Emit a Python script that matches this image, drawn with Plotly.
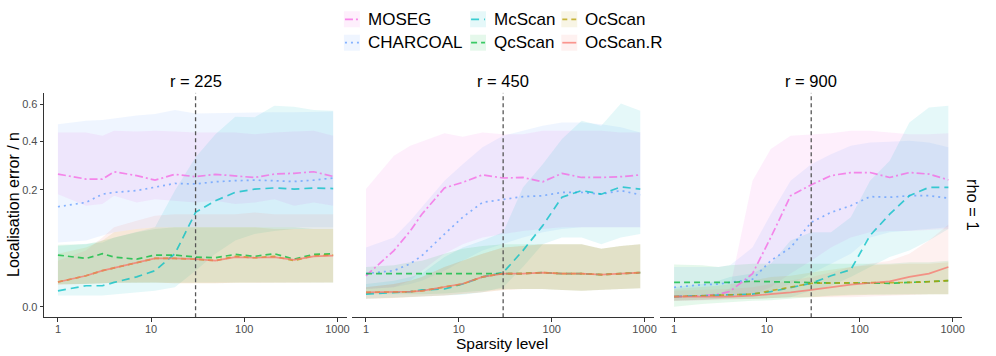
import numpy as np
import plotly.graph_objects as go

# ---------------- data ----------------
sparsity = [1, 2, 3, 4, 7, 11, 18, 30, 49, 80, 129, 210, 342, 556, 900]
r_values = [225, 450, 900]
methods = ["MOSEG", "CHARCOAL", "McScan", "QcScan", "OcScan", "OcScan.R"]
y_tick_vals = [0.0, 0.2, 0.4, 0.6]
y_tick_text = ["0.0", "0.2", "0.4", "0.6"]
x_tick_vals = [1, 10, 100, 1000]
vline_at = 30

# r = 225
r225_moseg_med = [0.257, 0.238, 0.238, 0.266, 0.251, 0.234, 0.256, 0.247, 0.256, 0.251, 0.244, 0.257, 0.260, 0.266, 0.248]
r225_moseg_lo = [0.185, 0.149, 0.154, 0.180, 0.159, 0.169, 0.164, 0.159, 0.164, 0.154, 0.159, 0.169, 0.149, 0.159, 0.149]
r225_moseg_hi = [0.444, 0.444, 0.427, 0.452, 0.449, 0.452, 0.449, 0.444, 0.444, 0.444, 0.435, 0.444, 0.449, 0.452, 0.427]
r225_charcoal_med = [0.146, 0.159, 0.185, 0.191, 0.197, 0.208, 0.222, 0.220, 0.228, 0.232, 0.234, 0.232, 0.229, 0.234, 0.242]
r225_charcoal_lo = [0.060, 0.064, 0.074, 0.081, 0.088, 0.092, 0.092, 0.092, 0.092, 0.092, 0.092, 0.092, 0.092, 0.092, 0.092]
r225_charcoal_hi = [0.487, 0.505, 0.509, 0.518, 0.534, 0.542, 0.565, 0.546, 0.548, 0.552, 0.552, 0.552, 0.552, 0.555, 0.557]
r225_mcscan_med = [0.0037, 0.0064, 0.0064, 0.0086, 0.013, 0.019, 0.041, 0.130, 0.164, 0.191, 0.202, 0.206, 0.202, 0.206, 0.204]
r225_mcscan_lo = [0.0018, 0.0018, 0.0018, 0.0023, 0.0030, 0.0037, 0.0055, 0.019, 0.041, 0.064, 0.077, 0.084, 0.088, 0.088, 0.088]
r225_mcscan_hi = [0.054, 0.057, 0.060, 0.070, 0.081, 0.092, 0.197, 0.326, 0.435, 0.527, 0.524, 0.590, 0.584, 0.565, 0.561]
r225_qcscan_med = [0.039, 0.034, 0.041, 0.036, 0.033, 0.039, 0.039, 0.036, 0.035, 0.040, 0.037, 0.041, 0.033, 0.040, 0.041]
r225_qcscan_lo = [0.0075, 0.0075, 0.0080, 0.0084, 0.0086, 0.0086, 0.0086, 0.0086, 0.0086, 0.0086, 0.0086, 0.0086, 0.0086, 0.0086, 0.0086]
r225_qcscan_hi = [0.056, 0.057, 0.064, 0.070, 0.081, 0.088, 0.092, 0.092, 0.092, 0.092, 0.092, 0.092, 0.092, 0.088, 0.088]
r225_ocscan_med = [0.0089, 0.014, 0.019, 0.022, 0.029, 0.034, 0.034, 0.033, 0.031, 0.037, 0.035, 0.037, 0.031, 0.038, 0.039]
r225_ocscan_lo = [0.0070, 0.0075, 0.0080, 0.0084, 0.0086, 0.0086, 0.0080, 0.0080, 0.0080, 0.0084, 0.0086, 0.0086, 0.0086, 0.0086, 0.0086]
r225_ocscan_hi = [0.041, 0.051, 0.064, 0.081, 0.088, 0.092, 0.092, 0.092, 0.092, 0.092, 0.092, 0.088, 0.088, 0.088, 0.088]
r225_ocscanr_med = [0.0089, 0.014, 0.019, 0.022, 0.029, 0.034, 0.034, 0.033, 0.031, 0.036, 0.035, 0.036, 0.032, 0.037, 0.038]
r225_ocscanr_lo = [0.0070, 0.0075, 0.0080, 0.0084, 0.0086, 0.0086, 0.0080, 0.0080, 0.0080, 0.0084, 0.0086, 0.0086, 0.0086, 0.0086, 0.0086]
r225_ocscanr_hi = [0.031, 0.046, 0.070, 0.092, 0.108, 0.121, 0.125, 0.125, 0.125, 0.125, 0.130, 0.125, 0.125, 0.125, 0.125]

# r = 450
r450_moseg_med = [0.014, 0.046, 0.084, 0.125, 0.206, 0.226, 0.254, 0.242, 0.244, 0.228, 0.260, 0.244, 0.244, 0.247, 0.254]
r450_moseg_lo = [0.0046, 0.0055, 0.0099, 0.019, 0.041, 0.057, 0.070, 0.077, 0.084, 0.088, 0.092, 0.092, 0.092, 0.092, 0.092]
r450_moseg_hi = [0.202, 0.333, 0.379, 0.398, 0.439, 0.422, 0.444, 0.435, 0.435, 0.452, 0.452, 0.452, 0.452, 0.444, 0.444]
r450_charcoal_med = [0.016, 0.019, 0.027, 0.038, 0.077, 0.117, 0.159, 0.169, 0.177, 0.180, 0.191, 0.191, 0.185, 0.197, 0.183]
r450_charcoal_lo = [0.0046, 0.0055, 0.0075, 0.0099, 0.019, 0.031, 0.046, 0.057, 0.070, 0.081, 0.088, 0.092, 0.092, 0.092, 0.092]
r450_charcoal_hi = [0.051, 0.070, 0.108, 0.144, 0.232, 0.297, 0.371, 0.427, 0.452, 0.479, 0.496, 0.496, 0.487, 0.470, 0.444]
r450_mcscan_med = [0.0023, 0.0030, 0.0033, 0.0041, 0.0046, 0.0075, 0.013, 0.017, 0.046, 0.096, 0.175, 0.197, 0.185, 0.210, 0.202]
r450_mcscan_lo = [0.0009, 0.0011, 0.0013, 0.0015, 0.0018, 0.0021, 0.0030, 0.0055, 0.023, 0.057, 0.070, 0.070, 0.057, 0.070, 0.077]
r450_mcscan_hi = [0.0075, 0.0099, 0.013, 0.016, 0.036, 0.051, 0.064, 0.081, 0.208, 0.297, 0.411, 0.505, 0.479, 0.604, 0.561]
r450_qcscan_med = [0.016, 0.016, 0.016, 0.016, 0.016, 0.016, 0.016, 0.016, 0.016, 0.017, 0.016, 0.016, 0.015, 0.016, 0.017]
r450_qcscan_lo = [0.0023, 0.0023, 0.0023, 0.0023, 0.0025, 0.0030, 0.0037, 0.0046, 0.0046, 0.0046, 0.0041, 0.0037, 0.0041, 0.0046, 0.0050]
r450_qcscan_hi = [0.023, 0.025, 0.029, 0.031, 0.041, 0.049, 0.054, 0.057, 0.057, 0.057, 0.057, 0.057, 0.049, 0.054, 0.057]
r450_ocscan_med = [0.0030, 0.0030, 0.0033, 0.0037, 0.0055, 0.0075, 0.013, 0.016, 0.016, 0.017, 0.016, 0.016, 0.015, 0.016, 0.017]
r450_ocscan_lo = [0.0009, 0.0011, 0.0013, 0.0015, 0.0018, 0.0023, 0.0030, 0.0041, 0.0046, 0.0046, 0.0041, 0.0037, 0.0041, 0.0046, 0.0050]
r450_ocscan_hi = [0.0055, 0.0075, 0.0099, 0.013, 0.023, 0.031, 0.041, 0.051, 0.054, 0.057, 0.057, 0.057, 0.049, 0.054, 0.057]
r450_ocscanr_med = [0.0030, 0.0030, 0.0033, 0.0037, 0.0055, 0.0077, 0.013, 0.016, 0.016, 0.017, 0.016, 0.016, 0.015, 0.016, 0.017]
r450_ocscanr_lo = [0.0009, 0.0011, 0.0013, 0.0015, 0.0018, 0.0023, 0.0030, 0.0041, 0.0046, 0.0046, 0.0041, 0.0037, 0.0041, 0.0046, 0.0050]
r450_ocscanr_hi = [0.0055, 0.0075, 0.0099, 0.013, 0.023, 0.031, 0.041, 0.051, 0.054, 0.057, 0.057, 0.057, 0.049, 0.054, 0.057]

# r = 900
r900_moseg_med = [0.0015, 0.0018, 0.0023, 0.0034, 0.016, 0.070, 0.180, 0.217, 0.251, 0.263, 0.263, 0.244, 0.263, 0.257, 0.235]
r900_moseg_lo = [0.0005, 0.0006, 0.0009, 0.0013, 0.0023, 0.0055, 0.016, 0.031, 0.051, 0.070, 0.081, 0.084, 0.084, 0.086, 0.088]
r900_moseg_hi = [0.0018, 0.0018, 0.0023, 0.0050, 0.232, 0.363, 0.427, 0.435, 0.439, 0.452, 0.452, 0.444, 0.435, 0.435, 0.439]
r900_charcoal_med = [0.0055, 0.0071, 0.0075, 0.0086, 0.011, 0.031, 0.051, 0.104, 0.130, 0.149, 0.177, 0.175, 0.180, 0.180, 0.172]
r900_charcoal_lo = [0.0013, 0.0015, 0.0015, 0.0018, 0.0023, 0.0037, 0.0075, 0.016, 0.027, 0.041, 0.070, 0.081, 0.084, 0.088, 0.092]
r900_charcoal_hi = [0.023, 0.023, 0.023, 0.025, 0.051, 0.125, 0.232, 0.297, 0.340, 0.379, 0.394, 0.398, 0.402, 0.394, 0.371]
r900_mcscan_med = [0.0015, 0.0018, 0.0020, 0.0021, 0.0023, 0.0033, 0.0055, 0.0080, 0.014, 0.020, 0.074, 0.125, 0.180, 0.208, 0.208]
r900_mcscan_lo = [0.0005, 0.0006, 0.0008, 0.0009, 0.0009, 0.0011, 0.0013, 0.0037, 0.0064, 0.013, 0.023, 0.036, 0.046, 0.064, 0.088]
r900_mcscan_hi = [0.0055, 0.0075, 0.0099, 0.013, 0.016, 0.027, 0.064, 0.081, 0.081, 0.117, 0.232, 0.311, 0.496, 0.580, 0.590]
r900_qcscan_med = [0.0086, 0.0084, 0.0082, 0.0086, 0.0094, 0.0091, 0.0086, 0.0082, 0.0082, 0.0082, 0.0082, 0.0080, 0.0086, 0.0091, 0.0099]
r900_qcscan_lo = [0.0, 0.0001, 0.0002, 0.0003, 0.0005, 0.0006, 0.0009, 0.0013, 0.0018, 0.0021, 0.0023, 0.0023, 0.0023, 0.0023, 0.0023]
r900_qcscan_hi = [0.026, 0.025, 0.023, 0.025, 0.027, 0.027, 0.027, 0.027, 0.027, 0.027, 0.027, 0.027, 0.029, 0.029, 0.031]
r900_ocscan_med = [0.0015, 0.0017, 0.0018, 0.0020, 0.0023, 0.0037, 0.0055, 0.0080, 0.0082, 0.0082, 0.0082, 0.0082, 0.0086, 0.0091, 0.0099]
r900_ocscan_lo = [0.0005, 0.0006, 0.0008, 0.0009, 0.0009, 0.0011, 0.0013, 0.0013, 0.0015, 0.0018, 0.0021, 0.0023, 0.0023, 0.0023, 0.0023]
r900_ocscan_hi = [0.0046, 0.0055, 0.0064, 0.0075, 0.0099, 0.013, 0.014, 0.017, 0.020, 0.023, 0.025, 0.026, 0.027, 0.027, 0.029]
r900_ocscanr_med = [0.0015, 0.0015, 0.0015, 0.0015, 0.0018, 0.0023, 0.0030, 0.0041, 0.0055, 0.0071, 0.0082, 0.0094, 0.013, 0.016, 0.023]
r900_ocscanr_lo = [0.0005, 0.0006, 0.0006, 0.0008, 0.0009, 0.0011, 0.0013, 0.0013, 0.0013, 0.0013, 0.0015, 0.0018, 0.0021, 0.0023, 0.0023]
r900_ocscanr_hi = [0.0037, 0.0041, 0.0046, 0.0046, 0.0055, 0.0075, 0.0099, 0.013, 0.017, 0.023, 0.027, 0.031, 0.041, 0.064, 0.098]

# ---------------- styling ----------------
W, H = 996, 356
FONT = "Liberation Sans, Arial, Helvetica, sans-serif"
colors = {
    "MOSEG": (245, 100, 227),
    "CHARCOAL": (97, 156, 255),
    "McScan": (0, 191, 196),
    "QcScan": (0, 186, 56),
    "OcScan": (183, 159, 0),
    "OcScan.R": (248, 118, 109),
}
dashes = {
    "MOSEG": "8px,3px,2px,3px",
    "CHARCOAL": "2px,4px",
    "McScan": "8px,5px",
    "QcScan": "6px,4px",
    "OcScan": "5px,4px",
    "OcScan.R": "solid",
}
keys = {"MOSEG": "moseg", "CHARCOAL": "charcoal", "McScan": "mcscan",
        "QcScan": "qcscan", "OcScan": "ocscan", "OcScan.R": "ocscanr"}

def rgba(c, a):
    return "rgba(%d,%d,%d,%s)" % (c[0], c[1], c[2], a)

def px(x):
    return x / W

def py(y):
    return 1 - y / H

g = globals()
x_domains = [(44.3, 348.0), (353.3, 656.0), (662.3, 965.0)]
y_dom = [py(317.3), py(92.7)]
y_range = [-0.0405, 0.818]
x_range = [-0.148, 3.102]

fig = go.Figure()
xs = np.array(sparsity)
for i, r in enumerate(r_values):
    xa = "x" if i == 0 else "x%d" % (i + 1)
    ya = "y" if i == 0 else "y%d" % (i + 1)
    # ribbons
    for m in methods:
        lo = np.sqrt(np.array(g["r%d_%s_lo" % (r, keys[m])]))
        hi = np.sqrt(np.array(g["r%d_%s_hi" % (r, keys[m])]))
        fig.add_trace(go.Scatter(
            x=np.concatenate([xs, xs[::-1]]), y=np.concatenate([hi, lo[::-1]]),
            fill="toself", fillcolor=rgba(colors[m], 0.1), line=dict(width=0),
            mode="lines", hoverinfo="skip", showlegend=False, xaxis=xa, yaxis=ya))
    # median lines
    for m in methods:
        med = np.sqrt(np.array(g["r%d_%s_med" % (r, keys[m])]))
        fig.add_trace(go.Scatter(
            x=xs, y=med, mode="lines", name=m, showlegend=False,
            line=dict(color=rgba(colors[m], 0.75), width=1.7, dash=dashes[m]),
            xaxis=xa, yaxis=ya))
    # reference line
    fig.add_trace(go.Scatter(
        x=[vline_at, vline_at], y=y_range, mode="lines", showlegend=False,
        line=dict(color="#555555", width=1.3, dash="4px,3px"), hoverinfo="skip",
        xaxis=xa, yaxis=ya))

axis_common = dict(showgrid=False, zeroline=False, ticks="outside", ticklen=3.5,
                   tickwidth=1, tickcolor="#333333",
                   tickfont=dict(family=FONT, size=11, color="#4D4D4D"))
layout = dict(width=W, height=H, margin=dict(l=0, r=0, t=0, b=0),
              paper_bgcolor="white", plot_bgcolor="white", showlegend=False,
              font=dict(family=FONT, color="black"))
for i in range(3):
    xk = "xaxis" if i == 0 else "xaxis%d" % (i + 1)
    yk = "yaxis" if i == 0 else "yaxis%d" % (i + 1)
    layout[xk] = dict(axis_common, type="log", domain=[px(x_domains[i][0]), px(x_domains[i][1])],
                      range=x_range, tickvals=x_tick_vals, ticktext=[str(v) for v in x_tick_vals],
                      showline=True, linecolor="#333333", linewidth=1, ticklabelstandoff=-2,
                      anchor="y" if i == 0 else "y%d" % (i + 1))
    ydict = dict(axis_common, domain=y_dom, range=y_range,
                 tickvals=list(np.sqrt(y_tick_vals)), ticktext=y_tick_text,
                 anchor="x" if i == 0 else "x%d" % (i + 1))
    if i > 0:
        ydict.update(showline=False, showticklabels=False, ticks="")
    else:
        ydict.update(showline=True, linecolor="#333333", linewidth=1)
    layout[yk] = ydict
fig.update_layout(**layout)

# strip labels and axis titles
ann = []
for i, r in enumerate(r_values):
    cx = (x_domains[i][0] + x_domains[i][1]) / 2
    ann.append(dict(text="r = %d" % r, x=px(cx), y=py(81), xref="paper", yref="paper",
                    showarrow=False, xanchor="center", yanchor="middle",
                    font=dict(family=FONT, size=16.5, color="black")))
ann.append(dict(text="rho = 1", x=px(976), y=py(205), xref="paper", yref="paper",
                showarrow=False, textangle=90, xanchor="center", yanchor="middle",
                font=dict(family=FONT, size=16.5, color="black")))
ann.append(dict(text="Sparsity level", x=px(504), y=py(343.5), xref="paper", yref="paper",
                showarrow=False, xanchor="center", yanchor="middle",
                font=dict(family=FONT, size=15.5, color="black")))
ann.append(dict(text="Localisation error / n", x=px(14), y=py(204), xref="paper", yref="paper",
                showarrow=False, textangle=-90, xanchor="center", yanchor="middle",
                font=dict(family=FONT, size=16, color="black")))

# legend (3 columns x 2 rows, column-major)
legend_cols = [(345, 367), (471.5, 493), (563, 585)]
legend_rows = [19.3, 42.7]
shapes = []
for j, m in enumerate(methods):
    col, row = j // 2, j % 2
    kx, tx = legend_cols[col]
    cy = legend_rows[row]
    shapes.append(dict(type="rect", xref="paper", yref="paper",
                       x0=px(kx), x1=px(kx + 16), y0=py(cy - 8), y1=py(cy + 8),
                       fillcolor=rgba(colors[m], 0.1), line=dict(width=0), layer="below"))
    shapes.append(dict(type="line", xref="paper", yref="paper",
                       x0=px(kx + 1), x1=px(kx + 15), y0=py(cy), y1=py(cy),
                       line=dict(color=rgba(colors[m], 0.75), width=1.7, dash=dashes[m])))
    ann.append(dict(text=m, x=px(tx), y=py(cy), xref="paper", yref="paper",
                    showarrow=False, xanchor="left", yanchor="middle",
                    font=dict(family=FONT, size=17, color="black")))
fig.update_layout(annotations=ann, shapes=shapes)

fig.write_html("out.html", config={"displayModeBar": False},
               post_script="document.body.style.margin='0';document.body.style.overflow='hidden';")
